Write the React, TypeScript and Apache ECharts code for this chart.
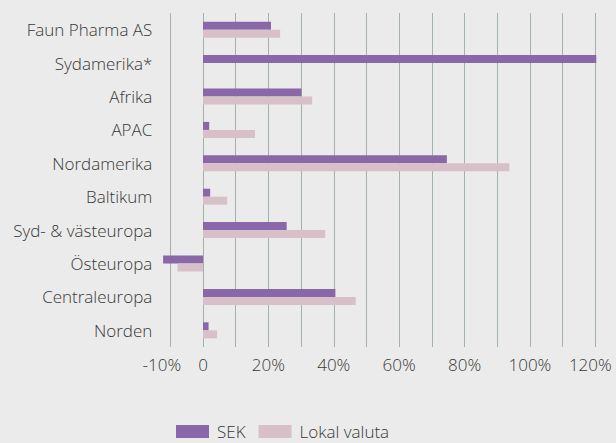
import React, { useEffect, useRef } from "react";
import * as echarts from "echarts";

const categories = [
  "Faun Pharma AS",
  "Sydamerika*",
  "Afrika",
  "APAC",
  "Nordamerika",
  "Baltikum",
  "Syd- & västeuropa",
  "Östeuropa",
  "Centraleuropa",
  "Norden",
];
const sekValues = [20.8, 120.3, 30.1, 1.9, 74.6, 2.2, 25.6, -12.2, 40.5, 1.7];
const lokalValues: (number | null)[] = [23.6, null, 33.4, 15.9, 93.7, 7.4, 37.4, -7.8, 46.7, 4.3];
const seriesNames = ["SEK", "Lokal valuta"];

const FONT = "'Open Sans', 'Noto Sans', sans-serif";
const TEXT = "#383838";

export default function App() {
  const ref = useRef<HTMLDivElement>(null);
  useEffect(() => {
    if (!ref.current) return;
    const chart = echarts.init(ref.current, null, { renderer: "svg" });
    chart.setOption({
      animation: false,
      backgroundColor: "#ebebeb",
      textStyle: { fontFamily: FONT, fontWeight: 300 },
      grid: { left: 170.3, right: 20.7, top: 13, bottom: 96 },
      legend: {
        data: seriesNames,
        left: 176,
        top: 423,
        padding: 0,
        itemWidth: 33,
        itemHeight: 13,
        itemGap: 13,
        icon: "rect",
        textStyle: { fontSize: 17, color: TEXT, fontFamily: FONT, fontWeight: 300, padding: [0, 0, 0, 3] },
      },
      xAxis: {
        type: "value",
        min: -10,
        max: 120,
        interval: 10,
        axisLine: { show: false },
        axisTick: { show: false },
        splitLine: { show: true, lineStyle: { color: "#a3b2a6", width: 1 } },
        axisLabel: {
          margin: 9,
          fontSize: 17,
          color: TEXT,
          fontFamily: FONT,
          fontWeight: 300,
          formatter: (v: number) => {
            if (v === -10) return "{a|-10%}";
            if (v === 0) return "0";
            if (v === 120) return "{b|120%}";
            if (v % 20 === 0) return v + "%";
            return "";
          },
          rich: {
            a: { fontSize: 17, color: TEXT, fontFamily: FONT, fontWeight: 300, padding: [0, 17, 0, 0] },
            b: { fontSize: 17, color: TEXT, fontFamily: FONT, fontWeight: 300, padding: [0, 10, 0, 0] },
          },
        },
      },
      yAxis: {
        type: "category",
        data: categories,
        inverse: true,
        axisLine: { show: false },
        axisTick: { show: false },
        splitLine: { show: false },
        axisLabel: { margin: 18, fontSize: 17, color: TEXT, fontFamily: FONT, fontWeight: 300 },
      },
      series: [
        {
          name: seriesNames[0],
          type: "bar",
          data: sekValues,
          barWidth: 8,
          barGap: "0%",
          clip: false,
          itemStyle: { color: "#8a67a8" },
        },
        {
          name: seriesNames[1],
          type: "bar",
          data: lokalValues,
          barWidth: 8,
          barGap: "0%",
          clip: false,
          itemStyle: { color: "#d8c0c8" },
        },
      ],
    });
    return () => chart.dispose();
  }, []);
  return <div ref={ref} style={{ width: 616, height: 443, position: "absolute", left: 0, top: 0 }} />;
}
